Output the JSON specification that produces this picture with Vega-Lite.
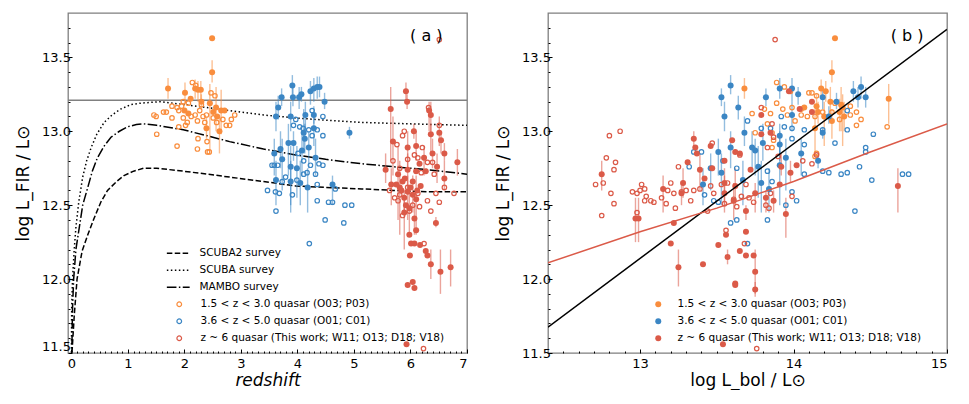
{
"$schema":"https://vega.github.io/schema/vega-lite/v6.json",
"background":"white",
"padding":{"left":13,"top":12,"right":5,"bottom":0},
"spacing":24,
"datasets":{
"cv":[
{"x":0.0,"y":11.45,"g":"s2"},{"x":0.01,"y":11.5,"g":"s2"},{"x":0.05,"y":11.75,"g":"s2"},{"x":0.10,"y":12.0,"g":"s2"},{"x":0.19,"y":12.19,"g":"s2"},{"x":0.30,"y":12.31,"g":"s2"},{"x":0.40,"y":12.41,"g":"s2"},{"x":0.52,"y":12.52,"g":"s2"},{"x":0.64,"y":12.60,"g":"s2"},{"x":0.80,"y":12.66,"g":"s2"},{"x":0.93,"y":12.70,"g":"s2"},{"x":1.10,"y":12.73,"g":"s2"},{"x":1.28,"y":12.75,"g":"s2"},{"x":1.51,"y":12.75,"g":"s2"},{"x":1.98,"y":12.73,"g":"s2"},{"x":2.4,"y":12.71,"g":"s2"},{"x":2.8,"y":12.69,"g":"s2"},{"x":3.4,"y":12.66,"g":"s2"},{"x":3.97,"y":12.63,"g":"s2"},{"x":4.5,"y":12.62,"g":"s2"},{"x":5.14,"y":12.61,"g":"s2"},{"x":5.7,"y":12.60,"g":"s2"},{"x":6.3,"y":12.59,"g":"s2"},{"x":7.0,"y":12.59,"g":"s2"},
{"x":0.0,"y":11.45,"g":"s"},{"x":0.005,"y":11.8,"g":"s"},{"x":0.02,"y":12.0,"g":"s"},{"x":0.05,"y":12.2,"g":"s"},{"x":0.08,"y":12.35,"g":"s"},{"x":0.13,"y":12.52,"g":"s"},{"x":0.2,"y":12.69,"g":"s"},{"x":0.27,"y":12.8,"g":"s"},{"x":0.35,"y":12.89,"g":"s"},{"x":0.45,"y":12.98,"g":"s"},{"x":0.58,"y":13.06,"g":"s"},{"x":0.72,"y":13.11,"g":"s"},{"x":0.87,"y":13.15,"g":"s"},{"x":1.05,"y":13.18,"g":"s"},{"x":1.22,"y":13.19,"g":"s"},{"x":1.57,"y":13.20,"g":"s"},{"x":1.98,"y":13.18,"g":"s"},{"x":2.4,"y":13.16,"g":"s"},{"x":2.8,"y":13.14,"g":"s"},{"x":3.4,"y":13.11,"g":"s"},{"x":3.97,"y":13.09,"g":"s"},{"x":4.5,"y":13.075,"g":"s"},{"x":5.14,"y":13.06,"g":"s"},{"x":6.0,"y":13.05,"g":"s"},{"x":7.0,"y":13.04,"g":"s"},
{"x":0.005,"y":11.45,"g":"m"},{"x":0.02,"y":11.8,"g":"m"},{"x":0.04,"y":12.0,"g":"m"},{"x":0.08,"y":12.2,"g":"m"},{"x":0.14,"y":12.35,"g":"m"},{"x":0.2,"y":12.5,"g":"m"},{"x":0.29,"y":12.62,"g":"m"},{"x":0.37,"y":12.73,"g":"m"},{"x":0.46,"y":12.82,"g":"m"},{"x":0.58,"y":12.9,"g":"m"},{"x":0.70,"y":12.96,"g":"m"},{"x":0.85,"y":13.0,"g":"m"},{"x":0.99,"y":13.03,"g":"m"},{"x":1.15,"y":13.045,"g":"m"},{"x":1.28,"y":13.05,"g":"m"},{"x":1.51,"y":13.04,"g":"m"},{"x":1.98,"y":13.01,"g":"m"},{"x":2.4,"y":12.97,"g":"m"},{"x":2.8,"y":12.93,"g":"m"},{"x":3.4,"y":12.88,"g":"m"},{"x":3.97,"y":12.84,"g":"m"},{"x":4.5,"y":12.81,"g":"m"},{"x":5.14,"y":12.78,"g":"m"},{"x":5.7,"y":12.76,"g":"m"},{"x":6.3,"y":12.74,"g":"m"},{"x":7.0,"y":12.71,"g":"m"}
],
"fit":[
{"x":12.4,"y":11.675,"k":"k"},{"x":15.0,"y":13.69,"k":"k"},
{"x":12.4,"y":12.11,"k":"r"},{"x":13.0,"y":12.32,"k":"r"},{"x":13.5,"y":12.48,"k":"r"},{"x":14.0,"y":12.66,"k":"r"},{"x":14.5,"y":12.86,"k":"r"},{"x":15.0,"y":13.05,"k":"r"}
],
"pa":[
{"x":2.49,"y":13.63,"g":"o","f":1},{"x":2.49,"y":13.40,"g":"o","f":1,"lo":13.33,"hi":13.48},{"x":1.71,"y":13.29,"g":"o","f":1,"lo":13.22,"hi":13.36},{"x":2.01,"y":13.26,"g":"o","f":1,"lo":13.19,"hi":13.33},{"x":2.19,"y":13.29,"g":"o","f":1,"lo":13.22,"hi":13.35},{"x":2.24,"y":13.28,"g":"o","f":1,"lo":13.20,"hi":13.34},{"x":2.29,"y":13.28,"g":"o","f":1,"lo":13.21,"hi":13.34},{"x":2.11,"y":13.22,"g":"o","f":1},{"x":2.30,"y":13.20,"g":"o","f":1,"lo":13.15,"hi":13.25},{"x":2.45,"y":13.19,"g":"o","f":1,"lo":12.87,"hi":13.32},{"x":2.56,"y":13.16,"g":"o","f":1,"lo":13.0,"hi":13.3},{"x":2.65,"y":13.14,"g":"o","f":1,"lo":12.98,"hi":13.28},{"x":2.71,"y":13.14,"g":"o","f":1},{"x":2.00,"y":13.14,"g":"o","f":1},{"x":2.07,"y":13.12,"g":"o","f":1},{"x":2.39,"y":13.02,"g":"o","f":1,"lo":12.95,"hi":13.1},{"x":2.62,"y":13.00,"g":"o","f":1,"lo":12.85,"hi":13.1},{"x":2.58,"y":13.10,"g":"o","f":1},{"x":2.51,"y":13.13,"g":"o","f":1},
{"x":1.46,"y":13.11,"g":"o","f":0},{"x":1.50,"y":13.10,"g":"o","f":0},{"x":1.51,"y":12.98,"g":"o","f":0},{"x":1.63,"y":13.13,"g":"o","f":0},{"x":1.68,"y":13.13,"g":"o","f":0},{"x":1.78,"y":13.17,"g":"o","f":0},{"x":1.78,"y":13.09,"g":"o","f":0},{"x":1.87,"y":13.16,"g":"o","f":0},{"x":1.90,"y":13.03,"g":"o","f":0},{"x":1.87,"y":12.90,"g":"o","f":0},{"x":1.98,"y":13.09,"g":"o","f":0},{"x":2.02,"y":13.04,"g":"o","f":0},{"x":2.14,"y":13.33,"g":"o","f":0},{"x":2.20,"y":13.31,"g":"o","f":0},{"x":2.19,"y":13.11,"g":"o","f":0},{"x":2.23,"y":13.07,"g":"o","f":0},{"x":2.24,"y":12.95,"g":"o","f":0},{"x":2.23,"y":12.88,"g":"o","f":0},{"x":2.30,"y":13.18,"g":"o","f":0},{"x":2.33,"y":13.10,"g":"o","f":0},{"x":2.36,"y":13.06,"g":"o","f":0},{"x":2.40,"y":12.93,"g":"o","f":0},{"x":2.41,"y":12.86,"g":"o","f":0},{"x":2.44,"y":12.86,"g":"o","f":0},{"x":2.47,"y":13.26,"g":"o","f":0},{"x":2.54,"y":13.24,"g":"o","f":0},{"x":2.51,"y":13.09,"g":"o","f":0},{"x":2.57,"y":13.06,"g":"o","f":0},{"x":2.68,"y":13.08,"g":"o","f":0},{"x":2.74,"y":13.04,"g":"o","f":0},{"x":2.80,"y":13.04,"g":"o","f":0},{"x":2.83,"y":13.08,"g":"o","f":0},{"x":2.89,"y":13.11,"g":"o","f":0},{"x":1.98,"y":13.20,"g":"o","f":0},{"x":2.07,"y":13.19,"g":"o","f":0},{"x":1.90,"y":13.14,"g":"o","f":0},{"x":2.27,"y":13.14,"g":"o","f":0},{"x":2.39,"y":13.11,"g":"o","f":0},{"x":1.95,"y":13.17,"g":"o","f":0},{"x":2.12,"y":13.10,"g":"o","f":0},{"x":2.05,"y":13.06,"g":"o","f":0},
{"x":3.91,"y":13.31,"g":"b","f":1,"lo":13.25,"hi":13.38},{"x":3.92,"y":13.23,"g":"b","f":1,"lo":13.17,"hi":13.30},{"x":3.72,"y":13.23,"g":"b","f":1,"lo":13.17,"hi":13.29},{"x":3.66,"y":13.16,"g":"b","f":1,"lo":13.08,"hi":13.24},{"x":3.62,"y":13.10,"g":"b","f":1,"lo":13.0,"hi":13.2},{"x":3.88,"y":13.10,"g":"b","f":1,"lo":13.0,"hi":13.2},{"x":4.03,"y":13.23,"g":"b","f":1,"lo":13.15,"hi":13.30},{"x":4.07,"y":13.25,"g":"b","f":1,"lo":13.2,"hi":13.3},{"x":4.23,"y":13.27,"g":"b","f":1,"lo":13.18,"hi":13.34},{"x":4.29,"y":13.29,"g":"b","f":1,"lo":13.2,"hi":13.36},{"x":4.35,"y":13.30,"g":"b","f":1,"lo":13.22,"hi":13.37},{"x":4.39,"y":13.30,"g":"b","f":1,"lo":13.23,"hi":13.37},{"x":4.48,"y":13.20,"g":"b","f":1,"lo":13.15,"hi":13.26},{"x":4.14,"y":13.11,"g":"b","f":1,"lo":13.0,"hi":13.2},{"x":4.29,"y":13.11,"g":"b","f":1,"lo":13.05,"hi":13.17},{"x":4.92,"y":12.99,"g":"b","f":1,"lo":12.95,"hi":13.03},{"x":4.29,"y":13.02,"g":"b","f":1,"lo":12.9,"hi":13.1},{"x":4.11,"y":12.99,"g":"b","f":1,"lo":12.85,"hi":13.15},{"x":4.13,"y":12.95,"g":"b","f":1,"lo":12.85,"hi":13.05},{"x":3.84,"y":12.92,"g":"b","f":1,"lo":12.7,"hi":13.05},{"x":3.93,"y":12.92,"g":"b","f":1,"lo":12.8,"hi":13.0},{"x":3.70,"y":12.88,"g":"b","f":1,"lo":12.75,"hi":13.0},{"x":3.59,"y":12.85,"g":"b","f":1,"lo":12.7,"hi":12.95},{"x":3.73,"y":12.81,"g":"b","f":1,"lo":12.6,"hi":12.95},{"x":3.88,"y":12.76,"g":"b","f":1,"lo":12.5,"hi":12.9},{"x":3.62,"y":12.67,"g":"b","f":1,"lo":12.5,"hi":12.8},{"x":3.88,"y":12.66,"g":"b","f":1,"lo":12.45,"hi":12.8},{"x":4.05,"y":12.65,"g":"b","f":1,"lo":12.5,"hi":12.8},{"x":4.18,"y":12.62,"g":"b","f":1,"lo":12.45,"hi":12.75},{"x":4.62,"y":12.64,"g":"b","f":1,"lo":12.5,"hi":12.7},{"x":4.32,"y":12.82,"g":"b","f":1,"lo":12.7,"hi":12.95},{"x":4.20,"y":12.89,"g":"b","f":1,"lo":12.75,"hi":13.0},{"x":4.08,"y":12.87,"g":"b","f":1,"lo":12.7,"hi":13.0},{"x":3.99,"y":12.75,"g":"b","f":1,"lo":12.55,"hi":12.9},
{"x":3.47,"y":12.60,"g":"b","f":0},{"x":3.61,"y":12.59,"g":"b","f":0},{"x":3.68,"y":12.58,"g":"b","f":0},{"x":3.62,"y":12.46,"g":"b","f":0},{"x":3.91,"y":12.57,"g":"b","f":0},{"x":4.21,"y":12.24,"g":"b","f":0},{"x":4.35,"y":12.53,"g":"b","f":0},{"x":4.49,"y":12.40,"g":"b","f":0},{"x":4.55,"y":12.52,"g":"b","f":0},{"x":4.62,"y":12.52,"g":"b","f":0},{"x":4.82,"y":12.38,"g":"b","f":0},{"x":4.84,"y":12.50,"g":"b","f":0},{"x":4.96,"y":12.50,"g":"b","f":0},{"x":4.45,"y":12.77,"g":"b","f":0},{"x":4.67,"y":12.61,"g":"b","f":0},{"x":4.45,"y":13.10,"g":"b","f":0},{"x":4.26,"y":13.14,"g":"b","f":0},{"x":3.97,"y":13.08,"g":"b","f":0},{"x":3.93,"y":13.04,"g":"b","f":0},{"x":4.04,"y":13.03,"g":"b","f":0},{"x":4.10,"y":13.02,"g":"b","f":0},{"x":4.20,"y":13.01,"g":"b","f":0},{"x":4.35,"y":13.01,"g":"b","f":0},{"x":4.45,"y":12.97,"g":"b","f":0},{"x":4.26,"y":12.97,"g":"b","f":0},{"x":3.55,"y":12.77,"g":"b","f":0},{"x":3.59,"y":12.77,"g":"b","f":0},{"x":3.65,"y":12.77,"g":"b","f":0},{"x":4.01,"y":12.85,"g":"b","f":0},{"x":4.11,"y":12.80,"g":"b","f":0},{"x":4.38,"y":12.78,"g":"b","f":0},{"x":4.23,"y":12.77,"g":"b","f":0},{"x":4.11,"y":12.71,"g":"b","f":0},{"x":3.99,"y":12.67,"g":"b","f":0},{"x":4.32,"y":12.71,"g":"b","f":0},{"x":4.17,"y":12.72,"g":"b","f":0},{"x":3.79,"y":12.69,"g":"b","f":0},{"x":3.73,"y":12.66,"g":"b","f":0},{"x":4.35,"y":12.64,"g":"b","f":0},
{"x":5.92,"y":13.27,"g":"r","f":1,"lo":13.2,"hi":13.33},{"x":5.94,"y":13.20,"g":"r","f":1,"lo":13.15,"hi":13.25},{"x":5.65,"y":13.15,"g":"r","f":1,"lo":12.8,"hi":13.3},{"x":6.33,"y":13.14,"g":"r","f":1,"lo":13.0,"hi":13.2},{"x":6.36,"y":13.11,"g":"r","f":1,"lo":13.0,"hi":13.2},{"x":6.51,"y":12.99,"g":"r","f":1,"lo":12.9,"hi":13.1},{"x":6.54,"y":12.94,"g":"r","f":1,"lo":12.85,"hi":13.0},{"x":6.60,"y":12.85,"g":"r","f":1,"lo":12.8,"hi":12.92},{"x":6.83,"y":12.79,"g":"r","f":1,"lo":12.7,"hi":12.88},{"x":5.69,"y":12.93,"g":"r","f":1,"lo":12.7,"hi":13.1},{"x":6.06,"y":13.00,"g":"r","f":1,"lo":12.95,"hi":13.05},{"x":6.10,"y":12.90,"g":"r","f":1,"lo":12.8,"hi":13.0},{"x":5.95,"y":12.89,"g":"r","f":1,"lo":12.75,"hi":13.0},{"x":6.36,"y":12.98,"g":"r","f":1,"lo":12.85,"hi":13.05},{"x":6.39,"y":12.85,"g":"r","f":1,"lo":12.75,"hi":12.95},{"x":6.24,"y":12.82,"g":"r","f":1,"lo":12.7,"hi":12.9},{"x":6.47,"y":12.76,"g":"r","f":1,"lo":12.65,"hi":12.85},{"x":6.60,"y":12.68,"g":"r","f":1,"lo":12.6,"hi":12.8},{"x":5.56,"y":12.74,"g":"r","f":1,"lo":12.65,"hi":12.85},{"x":5.78,"y":12.71,"g":"r","f":1,"lo":12.4,"hi":12.9},{"x":5.95,"y":12.74,"g":"r","f":1,"lo":12.6,"hi":12.85},{"x":6.16,"y":12.78,"g":"r","f":1},{"x":6.10,"y":12.73,"g":"r","f":1},{"x":6.27,"y":12.73,"g":"r","f":1},{"x":5.66,"y":12.64,"g":"r","f":1,"lo":12.5,"hi":12.75},{"x":5.81,"y":12.62,"g":"r","f":1,"lo":12.3,"hi":12.8},{"x":5.95,"y":12.59,"g":"r","f":1,"lo":12.4,"hi":12.7},{"x":6.04,"y":12.57,"g":"r","f":1,"lo":12.45,"hi":12.7},{"x":5.89,"y":12.55,"g":"r","f":1,"lo":12.45,"hi":12.6},{"x":6.10,"y":12.54,"g":"r","f":1,"lo":12.3,"hi":12.7},{"x":5.98,"y":12.48,"g":"r","f":1,"lo":12.3,"hi":12.6},{"x":5.89,"y":12.45,"g":"r","f":1,"lo":12.2,"hi":12.55},{"x":6.07,"y":12.41,"g":"r","f":1,"lo":12.3,"hi":12.5},{"x":5.98,"y":12.30,"g":"r","f":1},{"x":6.10,"y":12.33,"g":"r","f":1},{"x":6.01,"y":12.24,"g":"r","f":1},{"x":6.07,"y":12.24,"g":"r","f":1},{"x":6.17,"y":12.23,"g":"r","f":1},{"x":5.99,"y":12.16,"g":"r","f":1},{"x":6.27,"y":12.19,"g":"r","f":1},{"x":6.30,"y":12.16,"g":"r","f":1},{"x":6.45,"y":12.38,"g":"r","f":1,"lo":12.35,"hi":12.42},{"x":6.36,"y":12.10,"g":"r","f":1,"lo":12.0,"hi":12.2},{"x":6.71,"y":12.08,"g":"r","f":1,"lo":11.95,"hi":12.2},{"x":6.53,"y":12.05,"g":"r","f":1,"lo":11.9,"hi":12.2},{"x":5.95,"y":11.96,"g":"r","f":1},{"x":6.04,"y":11.98,"g":"r","f":1},{"x":6.07,"y":11.94,"g":"r","f":1},{"x":5.93,"y":11.56,"g":"r","f":1},{"x":5.75,"y":12.64,"g":"r","f":1},{"x":5.86,"y":12.66,"g":"r","f":1},{"x":6.04,"y":12.66,"g":"r","f":1},{"x":6.18,"y":12.63,"g":"r","f":1},{"x":5.92,"y":12.50,"g":"r","f":1},{"x":5.84,"y":12.60,"g":"r","f":1},{"x":6.00,"y":12.62,"g":"r","f":1},{"x":5.90,"y":12.68,"g":"r","f":1},{"x":6.12,"y":12.60,"g":"r","f":1},
{"x":6.51,"y":13.62,"g":"r","f":0},{"x":6.51,"y":13.04,"g":"r","f":0},{"x":6.32,"y":13.16,"g":"r","f":0},{"x":5.89,"y":13.00,"g":"r","f":0},{"x":5.76,"y":12.91,"g":"r","f":0},{"x":5.86,"y":12.97,"g":"r","f":0},{"x":6.21,"y":12.89,"g":"r","f":0},{"x":6.13,"y":12.82,"g":"r","f":0},{"x":6.30,"y":12.79,"g":"r","f":0},{"x":6.39,"y":12.79,"g":"r","f":0},{"x":6.42,"y":12.71,"g":"r","f":0},{"x":6.19,"y":12.72,"g":"r","f":0},{"x":6.60,"y":12.62,"g":"r","f":0},{"x":6.77,"y":12.58,"g":"r","f":0},{"x":6.45,"y":12.58,"g":"r","f":0},{"x":6.51,"y":12.52,"g":"r","f":0},{"x":6.30,"y":12.53,"g":"r","f":0},{"x":6.36,"y":12.46,"g":"r","f":0},{"x":6.24,"y":12.24,"g":"r","f":0},{"x":6.23,"y":11.53,"g":"r","f":0},{"x":5.63,"y":12.60,"g":"r","f":0},{"x":5.78,"y":12.53,"g":"r","f":0},{"x":5.86,"y":12.43,"g":"r","f":0},{"x":5.98,"y":12.46,"g":"r","f":0},{"x":5.95,"y":12.62,"g":"r","f":0},{"x":6.13,"y":12.58,"g":"r","f":0},{"x":6.04,"y":12.50,"g":"r","f":0},{"x":6.16,"y":12.49,"g":"r","f":0},{"x":5.69,"y":12.80,"g":"r","f":0},{"x":5.81,"y":12.75,"g":"r","f":0},{"x":6.07,"y":12.84,"g":"r","f":0},{"x":5.95,"y":12.81,"g":"r","f":0},{"x":5.81,"y":12.57,"g":"r","f":0},{"x":5.72,"y":12.55,"g":"r","f":0}
],
"pb":[
{"x":14.27,"y":13.63,"g":"o","f":1},{"x":14.25,"y":13.40,"g":"o","f":1,"lo":13.33,"hi":13.48},{"x":13.68,"y":13.29,"g":"o","f":1,"lo":13.22,"hi":13.36},{"x":14.62,"y":13.22,"g":"o","f":1,"lo":13.05,"hi":13.32},{"x":14.18,"y":13.29,"g":"o","f":1,"lo":13.22,"hi":13.35},{"x":14.21,"y":13.27,"g":"o","f":1,"lo":13.2,"hi":13.34},{"x":14.24,"y":13.20,"g":"o","f":1,"lo":13.1,"hi":13.3},{"x":14.31,"y":13.18,"g":"o","f":1,"lo":13.0,"hi":13.3},{"x":14.32,"y":13.16,"g":"o","f":1,"lo":12.9,"hi":13.25},{"x":14.30,"y":13.13,"g":"o","f":1,"lo":13.0,"hi":13.22},{"x":14.16,"y":13.13,"g":"o","f":1,"lo":13.05,"hi":13.2},{"x":14.20,"y":13.10,"g":"o","f":1,"lo":12.9,"hi":13.2},{"x":14.33,"y":13.10,"g":"o","f":1,"lo":13.0,"hi":13.2},{"x":14.14,"y":13.02,"g":"o","f":1,"lo":12.85,"hi":13.15},{"x":14.25,"y":13.07,"g":"o","f":1,"lo":12.95,"hi":13.15},{"x":14.15,"y":13.17,"g":"o","f":1,"lo":13.1,"hi":13.25},{"x":14.07,"y":13.16,"g":"o","f":1},
{"x":13.89,"y":13.33,"g":"o","f":0},{"x":13.94,"y":13.30,"g":"o","f":0},{"x":13.98,"y":13.27,"g":"o","f":0},{"x":14.10,"y":13.26,"g":"o","f":0},{"x":14.12,"y":13.26,"g":"o","f":0},{"x":14.15,"y":13.24,"g":"o","f":0},{"x":13.73,"y":13.12,"g":"o","f":0},{"x":13.81,"y":13.15,"g":"o","f":0},{"x":13.85,"y":13.12,"g":"o","f":0},{"x":13.89,"y":13.19,"g":"o","f":0},{"x":13.93,"y":13.15,"g":"o","f":0},{"x":13.96,"y":13.11,"g":"o","f":0},{"x":13.99,"y":13.16,"g":"o","f":0},{"x":14.05,"y":13.15,"g":"o","f":0},{"x":14.05,"y":13.11,"g":"o","f":0},{"x":14.09,"y":13.10,"g":"o","f":0},{"x":14.14,"y":13.10,"g":"o","f":0},{"x":14.19,"y":13.13,"g":"o","f":0},{"x":14.25,"y":13.13,"g":"o","f":0},{"x":14.37,"y":13.11,"g":"o","f":0},{"x":14.41,"y":13.13,"g":"o","f":0},{"x":14.44,"y":13.08,"g":"o","f":0},{"x":14.41,"y":13.04,"g":"o","f":0},{"x":14.37,"y":13.17,"g":"o","f":0},{"x":14.61,"y":13.03,"g":"o","f":0},{"x":13.83,"y":13.05,"g":"o","f":0},{"x":13.86,"y":12.99,"g":"o","f":0},{"x":13.75,"y":12.99,"g":"o","f":0},{"x":13.87,"y":12.94,"g":"o","f":0},{"x":13.86,"y":12.89,"g":"o","f":0},{"x":14.15,"y":12.85,"g":"o","f":0},{"x":14.14,"y":12.83,"g":"o","f":0},{"x":14.01,"y":13.07,"g":"o","f":0},{"x":14.30,"y":13.08,"g":"o","f":0},{"x":14.27,"y":13.19,"g":"o","f":0},
{"x":13.59,"y":13.31,"g":"b","f":1,"lo":13.25,"hi":13.38},{"x":13.53,"y":13.23,"g":"b","f":1,"lo":13.17,"hi":13.29},{"x":13.55,"y":13.10,"g":"b","f":1,"lo":13.0,"hi":13.2},{"x":13.64,"y":13.16,"g":"b","f":1,"lo":13.08,"hi":13.24},{"x":13.91,"y":13.29,"g":"b","f":1,"lo":13.22,"hi":13.36},{"x":13.99,"y":13.29,"g":"b","f":1,"lo":13.2,"hi":13.36},{"x":14.03,"y":13.25,"g":"b","f":1,"lo":13.18,"hi":13.3},{"x":13.82,"y":13.23,"g":"b","f":1,"lo":13.17,"hi":13.29},{"x":14.19,"y":13.23,"g":"b","f":1,"lo":13.15,"hi":13.3},{"x":14.28,"y":13.20,"g":"b","f":1,"lo":13.15,"hi":13.26},{"x":14.39,"y":13.27,"g":"b","f":1,"lo":13.2,"hi":13.34},{"x":14.44,"y":13.30,"g":"b","f":1,"lo":13.22,"hi":13.37},{"x":14.42,"y":13.23,"g":"b","f":1,"lo":13.16,"hi":13.3},{"x":14.47,"y":13.23,"g":"b","f":1,"lo":13.16,"hi":13.3},{"x":14.23,"y":13.10,"g":"b","f":1,"lo":13.05,"hi":13.17},{"x":13.99,"y":13.11,"g":"b","f":1,"lo":13.0,"hi":13.2},{"x":14.19,"y":12.99,"g":"b","f":1,"lo":12.95,"hi":13.03},{"x":13.68,"y":12.99,"g":"b","f":1,"lo":12.9,"hi":13.1},{"x":13.91,"y":12.97,"g":"b","f":1,"lo":12.85,"hi":13.05},{"x":13.80,"y":12.92,"g":"b","f":1,"lo":12.8,"hi":13.05},{"x":13.91,"y":12.91,"g":"b","f":1,"lo":12.8,"hi":13.0},{"x":13.73,"y":12.89,"g":"b","f":1,"lo":12.75,"hi":13.0},{"x":13.75,"y":12.87,"g":"b","f":1,"lo":12.7,"hi":12.95},{"x":13.59,"y":12.89,"g":"b","f":1,"lo":12.75,"hi":13.0},{"x":13.51,"y":12.86,"g":"b","f":1,"lo":12.7,"hi":12.95},{"x":13.95,"y":12.82,"g":"b","f":1,"lo":12.6,"hi":12.95},{"x":14.05,"y":12.85,"g":"b","f":1,"lo":12.7,"hi":12.95},{"x":14.16,"y":12.80,"g":"b","f":1,"lo":12.75,"hi":12.85},{"x":13.91,"y":12.77,"g":"b","f":1,"lo":12.5,"hi":12.9},{"x":13.77,"y":12.76,"g":"b","f":1,"lo":12.55,"hi":12.9},{"x":13.53,"y":12.72,"g":"b","f":1,"lo":12.5,"hi":12.85},{"x":13.46,"y":12.75,"g":"b","f":1,"lo":12.6,"hi":12.85},{"x":13.41,"y":12.64,"g":"b","f":1,"lo":12.5,"hi":12.75},{"x":13.67,"y":12.67,"g":"b","f":1,"lo":12.5,"hi":12.8},{"x":13.79,"y":12.65,"g":"b","f":1,"lo":12.45,"hi":12.8},{"x":13.84,"y":12.61,"g":"b","f":1,"lo":12.45,"hi":12.75},
{"x":13.35,"y":12.86,"g":"b","f":0},{"x":13.32,"y":12.76,"g":"b","f":0},{"x":13.40,"y":12.86,"g":"b","f":0},{"x":13.42,"y":12.57,"g":"b","f":0},{"x":13.48,"y":12.53,"g":"b","f":0},{"x":13.51,"y":12.52,"g":"b","f":0},{"x":13.59,"y":12.38,"g":"b","f":0},{"x":13.63,"y":12.40,"g":"b","f":0},{"x":13.70,"y":12.24,"g":"b","f":0},{"x":13.83,"y":12.40,"g":"b","f":0},{"x":13.95,"y":12.50,"g":"b","f":0},{"x":14.02,"y":12.53,"g":"b","f":0},{"x":13.99,"y":12.59,"g":"b","f":0},{"x":14.40,"y":12.46,"g":"b","f":0},{"x":14.51,"y":12.67,"g":"b","f":0},{"x":14.71,"y":12.71,"g":"b","f":0},{"x":14.75,"y":12.71,"g":"b","f":0},{"x":14.43,"y":12.76,"g":"b","f":0},{"x":14.35,"y":12.72,"g":"b","f":0},{"x":14.31,"y":12.71,"g":"b","f":0},{"x":14.23,"y":12.72,"g":"b","f":0},{"x":14.19,"y":12.73,"g":"b","f":0},{"x":14.07,"y":12.71,"g":"b","f":0},{"x":14.27,"y":12.92,"g":"b","f":0},{"x":14.47,"y":12.89,"g":"b","f":0},{"x":14.47,"y":12.86,"g":"b","f":0},{"x":14.52,"y":12.98,"g":"b","f":0},{"x":14.35,"y":13.01,"g":"b","f":0},{"x":14.35,"y":13.14,"g":"b","f":0},{"x":14.07,"y":13.01,"g":"b","f":0},{"x":13.99,"y":13.02,"g":"b","f":0},{"x":13.94,"y":13.03,"g":"b","f":0},{"x":13.85,"y":13.02,"g":"b","f":0},{"x":13.79,"y":13.02,"g":"b","f":0},{"x":13.70,"y":13.07,"g":"b","f":0},{"x":13.92,"y":13.10,"g":"b","f":0},{"x":13.99,"y":12.95,"g":"b","f":0},{"x":14.07,"y":12.91,"g":"b","f":0},{"x":13.83,"y":12.73,"g":"b","f":0},{"x":13.54,"y":12.80,"g":"b","f":0},{"x":13.63,"y":12.75,"g":"b","f":0},{"x":14.19,"y":13.01,"g":"b","f":0},{"x":13.86,"y":12.66,"g":"b","f":0},
{"x":14.68,"y":12.63,"g":"r","f":1,"lo":12.45,"hi":12.75},{"x":12.75,"y":12.71,"g":"r","f":1,"lo":12.6,"hi":12.8},{"x":12.97,"y":12.41,"g":"r","f":1,"lo":12.25,"hi":12.55},{"x":12.99,"y":12.41,"g":"r","f":1,"lo":12.25,"hi":12.55},{"x":13.22,"y":12.38,"g":"r","f":1},{"x":13.15,"y":12.61,"g":"r","f":1,"lo":12.45,"hi":12.7},{"x":13.20,"y":12.24,"g":"r","f":1},{"x":13.25,"y":12.08,"g":"r","f":1,"lo":11.95,"hi":12.2},{"x":13.27,"y":12.58,"g":"r","f":1,"lo":12.5,"hi":12.65},{"x":13.28,"y":12.65,"g":"r","f":1,"lo":12.55,"hi":12.75},{"x":13.31,"y":12.79,"g":"r","f":1},{"x":13.35,"y":12.95,"g":"r","f":1,"lo":12.9,"hi":13.0},{"x":13.36,"y":12.89,"g":"r","f":1},{"x":13.37,"y":12.85,"g":"r","f":1},{"x":13.39,"y":12.74,"g":"r","f":1,"lo":12.6,"hi":12.85},{"x":13.41,"y":12.10,"g":"r","f":1},{"x":13.46,"y":12.90,"g":"r","f":1},{"x":13.47,"y":12.75,"g":"r","f":1},{"x":13.42,"y":12.68,"g":"r","f":1},{"x":13.51,"y":12.23,"g":"r","f":1},{"x":13.56,"y":12.30,"g":"r","f":1},{"x":13.57,"y":12.15,"g":"r","f":1,"lo":12.1,"hi":12.2},{"x":13.55,"y":12.58,"g":"r","f":1,"lo":12.45,"hi":12.7},{"x":13.55,"y":12.65,"g":"r","f":1,"lo":12.5,"hi":12.75},{"x":13.55,"y":12.80,"g":"r","f":1},{"x":13.60,"y":12.94,"g":"r","f":1},{"x":13.62,"y":12.86,"g":"r","f":1},{"x":13.65,"y":12.85,"g":"r","f":1},{"x":13.62,"y":12.63,"g":"r","f":1,"lo":12.5,"hi":12.75},{"x":13.61,"y":12.53,"g":"r","f":1,"lo":12.4,"hi":12.65},{"x":13.62,"y":11.97,"g":"r","f":1},{"x":13.62,"y":11.96,"g":"r","f":1},{"x":13.65,"y":12.19,"g":"r","f":1},{"x":13.69,"y":12.16,"g":"r","f":1},{"x":13.69,"y":12.46,"g":"r","f":1,"lo":12.4,"hi":12.5},{"x":13.69,"y":12.32,"g":"r","f":1},{"x":13.74,"y":12.16,"g":"r","f":1},{"x":13.75,"y":12.05,"g":"r","f":1,"lo":11.9,"hi":12.2},{"x":13.75,"y":11.93,"g":"r","f":1,"lo":11.88,"hi":11.98},{"x":13.75,"y":12.58,"g":"r","f":1,"lo":12.45,"hi":12.65},{"x":13.72,"y":12.74,"g":"r","f":1},{"x":13.79,"y":13.11,"g":"r","f":1},{"x":13.79,"y":12.98,"g":"r","f":1},{"x":13.85,"y":12.99,"g":"r","f":1},{"x":13.82,"y":12.55,"g":"r","f":1,"lo":12.45,"hi":12.6},{"x":13.87,"y":12.53,"g":"r","f":1,"lo":12.45,"hi":12.6},{"x":13.91,"y":12.64,"g":"r","f":1},{"x":13.92,"y":12.76,"g":"r","f":1,"lo":12.7,"hi":12.85},{"x":13.95,"y":12.44,"g":"r","f":1,"lo":12.28,"hi":12.55},{"x":13.98,"y":12.72,"g":"r","f":1,"lo":12.65,"hi":12.8},{"x":14.02,"y":12.77,"g":"r","f":1},{"x":13.97,"y":13.27,"g":"r","f":1},{"x":14.04,"y":13.15,"g":"r","f":1},{"x":14.12,"y":13.13,"g":"r","f":1},{"x":14.12,"y":13.20,"g":"r","f":1},{"x":13.54,"y":11.56,"g":"r","f":1},
{"x":13.88,"y":13.62,"g":"r","f":0},{"x":12.71,"y":12.64,"g":"r","f":0},{"x":12.75,"y":12.43,"g":"r","f":0},{"x":12.76,"y":12.65,"g":"r","f":0},{"x":12.78,"y":12.82,"g":"r","f":0},{"x":12.80,"y":12.97,"g":"r","f":0},{"x":12.81,"y":12.58,"g":"r","f":0},{"x":12.83,"y":12.74,"g":"r","f":0},{"x":12.83,"y":12.51,"g":"r","f":0},{"x":12.84,"y":12.79,"g":"r","f":0},{"x":12.87,"y":13.00,"g":"r","f":0},{"x":12.95,"y":12.59,"g":"r","f":0},{"x":12.98,"y":12.58,"g":"r","f":0},{"x":12.98,"y":12.45,"g":"r","f":0},{"x":13.00,"y":12.60,"g":"r","f":0},{"x":13.01,"y":12.64,"g":"r","f":0},{"x":13.03,"y":12.53,"g":"r","f":0},{"x":13.03,"y":12.61,"g":"r","f":0},{"x":13.04,"y":12.56,"g":"r","f":0},{"x":13.07,"y":12.53,"g":"r","f":0},{"x":13.09,"y":12.52,"g":"r","f":0},{"x":13.14,"y":12.55,"g":"r","f":0},{"x":13.17,"y":12.51,"g":"r","f":0},{"x":13.18,"y":12.60,"g":"r","f":0},{"x":13.20,"y":12.65,"g":"r","f":0},{"x":13.22,"y":12.58,"g":"r","f":0},{"x":13.23,"y":12.48,"g":"r","f":0},{"x":13.25,"y":12.76,"g":"r","f":0},{"x":13.27,"y":12.59,"g":"r","f":0},{"x":13.30,"y":12.60,"g":"r","f":0},{"x":13.33,"y":12.53,"g":"r","f":0},{"x":13.35,"y":12.60,"g":"r","f":0},{"x":13.39,"y":12.61,"g":"r","f":0},{"x":13.44,"y":12.46,"g":"r","f":0},{"x":13.46,"y":12.63,"g":"r","f":0},{"x":13.47,"y":12.92,"g":"r","f":0},{"x":13.48,"y":12.58,"g":"r","f":0},{"x":13.53,"y":12.64,"g":"r","f":0},{"x":13.55,"y":12.51,"g":"r","f":0},{"x":13.56,"y":12.33,"g":"r","f":0},{"x":13.57,"y":12.65,"g":"r","f":0},{"x":13.61,"y":12.54,"g":"r","f":0},{"x":13.63,"y":12.49,"g":"r","f":0},{"x":13.66,"y":12.56,"g":"r","f":0},{"x":13.68,"y":12.24,"g":"r","f":0},{"x":13.69,"y":12.64,"g":"r","f":0},{"x":13.71,"y":12.55,"g":"r","f":0},{"x":13.74,"y":12.52,"g":"r","f":0},{"x":13.76,"y":11.53,"g":"r","f":0},{"x":13.79,"y":13.16,"g":"r","f":0},{"x":13.82,"y":12.50,"g":"r","f":0},{"x":13.84,"y":12.48,"g":"r","f":0},{"x":13.83,"y":12.89,"g":"r","f":0},{"x":13.86,"y":13.05,"g":"r","f":0},{"x":13.87,"y":12.96,"g":"r","f":0},{"x":13.90,"y":12.83,"g":"r","f":0},{"x":13.99,"y":12.56,"g":"r","f":0},{"x":14.06,"y":12.80,"g":"r","f":0},{"x":14.12,"y":12.78,"g":"r","f":0},{"x":14.15,"y":12.84,"g":"r","f":0},{"x":13.65,"y":12.84,"g":"r","f":0},{"x":13.85,"y":12.58,"g":"r","f":0}
]
},
"hconcat":[
{
"width":399,"height":340,
"resolve":{"axis":{"x":"independent","y":"independent"}},
"layer":[
{"data":{"name":"cv"},"mark":{"type":"line","strokeWidth":1.5,"clip":true,"color":"black"},
"encoding":{
"x":{"field":"x","type":"quantitative","scale":{"domain":[-0.06,7],"nice":false,"zero":false},"axis":{"orient":"bottom","values":[0,1,2,3,4,5,6,7],"format":"d","tickSize":-4,"tickWidth":1,"labelFontSize":13,"labelPadding":8.5,"title":"redshift","titleFontSize":17,"titleFontStyle":"italic","titlePadding":2}},
"y":{"field":"y","type":"quantitative","scale":{"domain":[11.5,13.8],"nice":false,"zero":false},"axis":{"orient":"left","values":[11.5,12,12.5,13,13.5],"format":".1f","tickSize":-4,"tickWidth":1,"labelFontSize":13,"labelPadding":1.5,"labelFlush":true,"title":"log L_FIR / L⊙","titleFontSize":17,"titlePadding":9}},
"strokeDash":{"field":"g","type":"nominal","scale":{"domain":["s2","s","m"],"range":[[5.5,2.4],[1.5,2.5],[9.6,2.4,1.5,2.4]]},
"legend":{"orient":"none","legendX":105,"legendY":235,"title":null,"padding":0,"labelFontSize":10.5,"labelFont":"DejaVu Sans","labelColor":"black","labelOffset":16,"rowPadding":6,"symbolType":"M-3.8,0H3.8","symbolSize":36,"symbolStrokeColor":"black","symbolStrokeWidth":1.5,"labelLimit":400,
"labelExpr":"datum.value==='s2'?'SCUBA2 survey':datum.value==='s'?'SCUBA survey':'MAMBO survey'"}}
}},
{"data":{"values":[{}]},"mark":{"type":"rule","color":"#808080","strokeWidth":1.5},
"encoding":{"y":{"datum":13.21,"type":"quantitative","scale":{"domain":[11.5,13.8],"nice":false,"zero":false},"axis":null}}},
{"data":{"name":"pa"},"transform":[{"filter":"isValid(datum.lo)"}],"mark":{"type":"rule","strokeWidth":1.4,"opacity":0.55},
"encoding":{
"x":{"field":"x","type":"quantitative","scale":{"domain":[-0.06,7],"nice":false,"zero":false},"axis":{"orient":"bottom","values":[0.1,0.2,0.3,0.4,0.5,0.6,0.7,0.8,0.9,1.1,1.2,1.3,1.4,1.5,1.6,1.7,1.8,1.9,2.1,2.2,2.3,2.4,2.5,2.6,2.7,2.8,2.9,3.1,3.2,3.3,3.4,3.5,3.6,3.7,3.8,3.9,4.1,4.2,4.3,4.4,4.5,4.6,4.7,4.8,4.9,5.1,5.2,5.3,5.4,5.5,5.6,5.7,5.8,5.9,6.1,6.2,6.3,6.4,6.5,6.6,6.7,6.8,6.9],"tickSize":-2,"tickWidth":1,"labels":false,"title":null}},
"y":{"field":"lo","type":"quantitative","scale":{"domain":[11.5,13.8],"nice":false,"zero":false},"axis":{"orient":"left","values":[11.6,11.7,11.8,11.9,12.1,12.2,12.3,12.4,12.6,12.7,12.8,12.9,13.1,13.2,13.3,13.4,13.6,13.7],"tickSize":-2,"tickWidth":1,"labels":false,"title":null}},
"y2":{"field":"hi"},
"stroke":{"field":"g","type":"nominal","scale":{"domain":["o","b","r","y"],"range":["#f98d3d","#3b86c4","#db5a48","#999999"]},"legend":null}}},
{"data":{"name":"pa"},"transform":[{"filter":"datum.f == 0"}],"mark":{"type":"point","filled":false,"size":20,"strokeWidth":1.2,"opacity":1},
"encoding":{
"x":{"field":"x","type":"quantitative","scale":{"domain":[-0.06,7],"nice":false,"zero":false},"axis":null},
"y":{"field":"y","type":"quantitative","scale":{"domain":[11.5,13.8],"nice":false,"zero":false},"axis":null},
"color":{"field":"g","type":"nominal","scale":{"domain":["o","b","r"],"range":["#f98d3d","#3b86c4","#db5a48"]},
"legend":{"orient":"none","legendX":106,"legendY":286,"title":null,"padding":0,"labelFontSize":10.5,"labelFont":"DejaVu Sans","labelColor":"black","labelOffset":16,"rowPadding":6,"symbolType":"circle","symbolSize":22,"symbolStrokeWidth":1.2,"labelLimit":400,
"labelExpr":"datum.value==='o'?'1.5 < z < 3.0 quasar (O03; P03)':datum.value==='b'?'3.6 < z < 5.0 quasar (O01; C01)':'z ~ 6 quasar (This work; W11; O13; D18; V18)'"}}}},
{"data":{"name":"pa"},"transform":[{"filter":"datum.f == 1"}],"mark":{"type":"circle","size":36,"opacity":1},
"encoding":{
"x":{"field":"x","type":"quantitative","scale":{"domain":[-0.06,7],"nice":false,"zero":false},"axis":null},
"y":{"field":"y","type":"quantitative","scale":{"domain":[11.5,13.8],"nice":false,"zero":false},"axis":null},
"fill":{"field":"g","type":"nominal","scale":{"domain":["o","b","r","x"],"range":["#f98d3d","#3b86c4","#db5a48","#888888"]},"legend":null}}},
{"data":{"values":[{}]},"mark":{"type":"text","text":"( a )","fontSize":16,"font":"DejaVu Sans","color":"black","align":"center","baseline":"middle"},
"encoding":{"x":{"datum":6.28,"type":"quantitative","scale":{"domain":[-0.06,7],"nice":false,"zero":false},"axis":null},"y":{"datum":13.645,"type":"quantitative","scale":{"domain":[11.5,13.8],"nice":false,"zero":false},"axis":null}}}
]
},
{
"width":399,"height":340,
"resolve":{"axis":{"x":"independent","y":"independent"}},
"layer":[
{"data":{"name":"pb"},"transform":[{"filter":"isValid(datum.lo)"}],"mark":{"type":"rule","strokeWidth":1.4,"opacity":0.55},
"encoding":{
"x":{"field":"x","type":"quantitative","scale":{"domain":[12.4,15],"nice":false,"zero":false},"axis":{"orient":"bottom","values":[12.5,12.6,12.7,12.8,12.9,13.1,13.2,13.3,13.4,13.5,13.6,13.7,13.8,13.9,14.1,14.2,14.3,14.4,14.5,14.6,14.7,14.8,14.9],"tickSize":-2,"tickWidth":1,"labels":false,"title":null}},
"y":{"field":"lo","type":"quantitative","scale":{"domain":[11.5,13.8],"nice":false,"zero":false},"axis":{"orient":"left","values":[11.6,11.7,11.8,11.9,12.1,12.2,12.3,12.4,12.6,12.7,12.8,12.9,13.1,13.2,13.3,13.4,13.6,13.7],"tickSize":-2,"tickWidth":1,"labels":false,"title":null}},
"y2":{"field":"hi"},
"stroke":{"field":"g","type":"nominal","scale":{"domain":["o","b","r","y"],"range":["#f98d3d","#3b86c4","#db5a48","#999999"]},"legend":null}}},
{"data":{"name":"pb"},"transform":[{"filter":"datum.f == 0"}],"mark":{"type":"point","filled":false,"size":20,"strokeWidth":1.2,"opacity":1},
"encoding":{
"x":{"field":"x","type":"quantitative","scale":{"domain":[12.4,15],"nice":false,"zero":false},"axis":null},
"y":{"field":"y","type":"quantitative","scale":{"domain":[11.5,13.8],"nice":false,"zero":false},"axis":null},
"stroke":{"field":"g","type":"nominal","scale":{"domain":["o","b","r","y"],"range":["#f98d3d","#3b86c4","#db5a48","#999999"]},"legend":null}}},
{"data":{"name":"pb"},"transform":[{"filter":"datum.f == 1"}],"mark":{"type":"circle","size":36,"opacity":1},
"encoding":{
"x":{"field":"x","type":"quantitative","scale":{"domain":[12.4,15],"nice":false,"zero":false},"axis":null},
"y":{"field":"y","type":"quantitative","scale":{"domain":[11.5,13.8],"nice":false,"zero":false},"axis":null},
"color":{"field":"g","type":"nominal","scale":{"domain":["o","b","r"],"range":["#f98d3d","#3b86c4","#db5a48"]},
"legend":{"orient":"none","legendX":105,"legendY":286,"title":null,"padding":0,"labelFontSize":10.5,"labelFont":"DejaVu Sans","labelColor":"black","labelOffset":14,"rowPadding":6,"symbolType":"circle","symbolSize":36,"labelLimit":400,
"labelExpr":"datum.value==='o'?'1.5 < z < 3.0 quasar (O03; P03)':datum.value==='b'?'3.6 < z < 5.0 quasar (O01; C01)':'z ~ 6 quasar (This work; W11; O13; D18; V18)'"}}}},
{"data":{"name":"fit"},"transform":[{"filter":"datum.k == 'k'"}],"mark":{"type":"line","color":"black","strokeWidth":1.5,"clip":true},
"encoding":{
"x":{"field":"x","type":"quantitative","scale":{"domain":[12.4,15],"nice":false,"zero":false},"axis":{"orient":"bottom","values":[13,14,15],"format":"d","tickSize":-4,"tickWidth":1,"labelFontSize":13,"labelPadding":8.5,"title":"log L_bol / L⊙","titleFontSize":17,"titlePadding":2}},
"y":{"field":"y","type":"quantitative","scale":{"domain":[11.5,13.8],"nice":false,"zero":false},"axis":{"orient":"left","values":[11.5,12,12.5,13,13.5],"format":".1f","tickSize":-4,"tickWidth":1,"labelFontSize":13,"labelPadding":1.5,"title":"log L_FIR / L⊙","titleFontSize":17,"titlePadding":9}}}},
{"data":{"name":"fit"},"transform":[{"filter":"datum.k == 'r'"}],"mark":{"type":"line","color":"#db5a48","strokeWidth":1.5,"clip":true},
"encoding":{
"x":{"field":"x","type":"quantitative","scale":{"domain":[12.4,15],"nice":false,"zero":false},"axis":null},
"y":{"field":"y","type":"quantitative","scale":{"domain":[11.5,13.8],"nice":false,"zero":false},"axis":null}}},
{"data":{"values":[{}]},"mark":{"type":"text","text":"( b )","fontSize":16,"font":"DejaVu Sans","color":"black","align":"center","baseline":"middle"},
"encoding":{"x":{"datum":14.74,"type":"quantitative","scale":{"domain":[12.4,15],"nice":false,"zero":false},"axis":null},"y":{"datum":13.645,"type":"quantitative","scale":{"domain":[11.5,13.8],"nice":false,"zero":false},"axis":null}}}
]
}
],
"resolve":{"scale":{"color":"independent","fill":"independent","stroke":"independent","strokeDash":"independent"},"legend":{"color":"independent","fill":"independent","stroke":"independent","strokeDash":"independent"}},
"config":{"font":"DejaVu Sans","view":{"stroke":"#7f7f7f","strokeWidth":1.3},"axis":{"grid":false,"domain":false,"labelColor":"black","titleColor":"black","tickColor":"black","labelFont":"DejaVu Sans","titleFont":"DejaVu Sans","titleFontWeight":"normal"}}
}
